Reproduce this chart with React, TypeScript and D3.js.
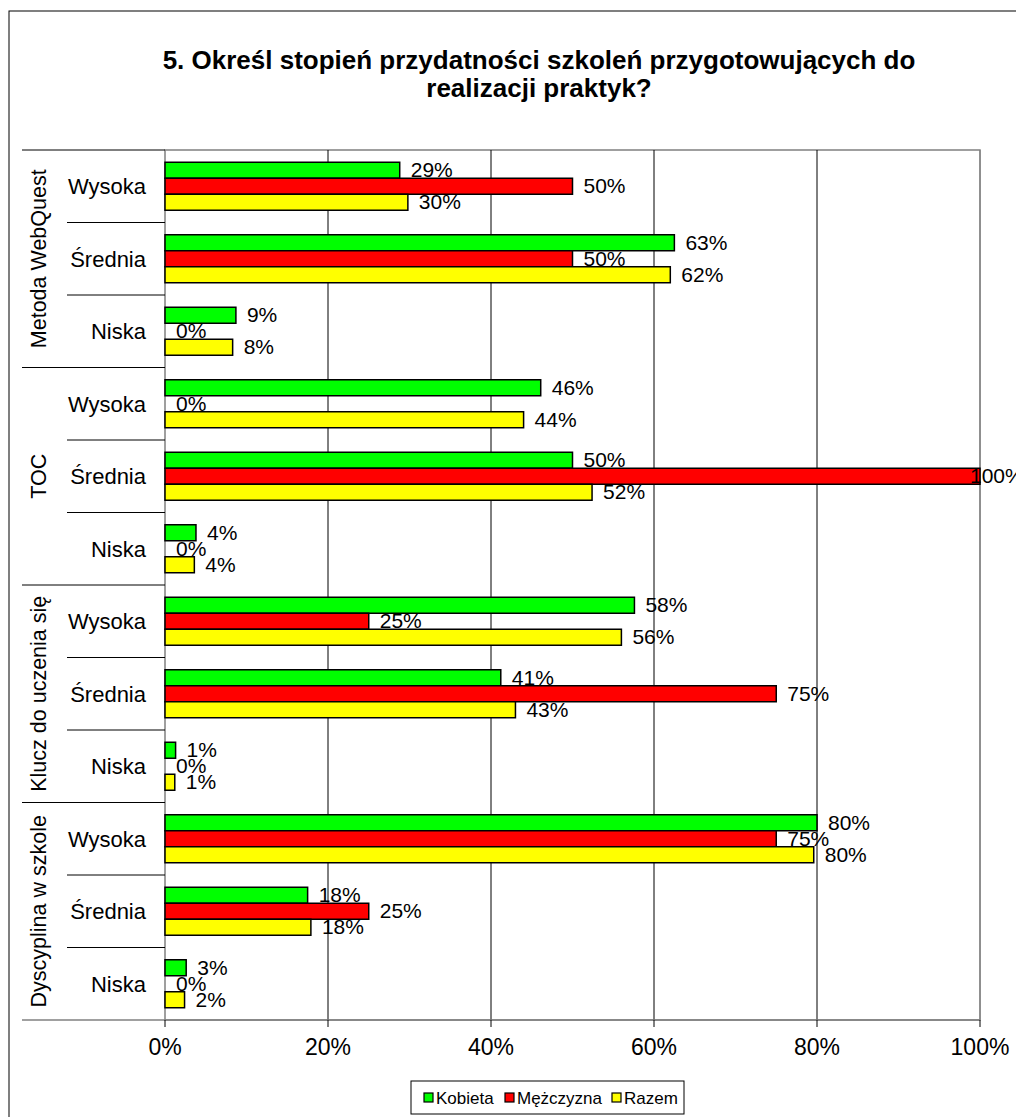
import React from 'react'
import * as d3 from 'd3'

const groups = ['Metoda WebQuest', 'TOC', 'Klucz do uczenia się', 'Dyscyplina w szkole']
const levels = ['Wysoka', 'Średnia', 'Niska']
const seriesNames = ['Kobieta', 'Mężczyzna', 'Razem']
const seriesColors = ['#00ff00', '#ff0000', '#ffff00']

// values per row, top to bottom (group x level)
const kobieta = [28.8, 62.5, 8.7, 46.1, 50, 3.8, 57.6, 41.2, 1.3, 80, 17.5, 2.6]
const mezczyzna = [50, 50, 0, 0, 100, 0, 25, 75, 0, 75, 25, 0]
const razem = [29.8, 62, 8.3, 44, 52.4, 3.6, 56, 43, 1.2, 79.6, 17.9, 2.4]
const ticks = [0, 20, 40, 60, 80, 100]

const FONT = "Arial, 'Liberation Sans', sans-serif"

const App: React.FC = () => {
  const width = 1016
  const height = 1117
  const margin = { top: 150, left: 165, right: 36, bottom: 97 }
  const plotW = width - margin.left - margin.right
  const plotBottom = height - margin.bottom

  const rows = groups.flatMap((g, gi) => levels.map((l, li) => ({ group: g, level: l, idx: gi * 3 + li })))
  const values = [kobieta, mezczyzna, razem]

  const x = d3.scaleLinear().domain([0, 100]).range([margin.left, margin.left + plotW])
  const y = d3.scaleBand<number>().domain(rows.map(r => r.idx)).range([margin.top, plotBottom])
  const inner = d3.scaleBand<number>().domain([0, 1, 2]).range([0, y.bandwidth()]).paddingInner(0).paddingOuter(0.766)
  const groupH = y.step() * levels.length

  // legend layout
  const legendX = [424, 505, 612]

  return (
    <>
      <style>{`body{margin:0}`}</style>
      <svg width={width} height={height} style={{ display: 'block', fontFamily: FONT }}>
        <rect x={0} y={0} width={width} height={height} fill="#fff" />
        <rect x={9} y={11} width={width + 50} height={height + 50} fill="none" stroke="#000" strokeWidth={1} />

        {/* title */}
        <text x={539} y={69} textAnchor="middle" fontSize={26} fontWeight="bold">
          5. Określ stopień przydatności szkoleń przygotowujących do
        </text>
        <text x={539} y={97} textAnchor="middle" fontSize={26} fontWeight="bold">
          realizacji praktyk?
        </text>

        {/* plot border */}
        <rect x={margin.left} y={margin.top} width={plotW} height={plotBottom - margin.top}
          fill="none" stroke="#808080" strokeWidth={1.5} />

        {/* gridlines */}
        {ticks.slice(1).map(t => (
          <line key={t} x1={x(t)} x2={x(t)} y1={margin.top} y2={plotBottom}
            stroke={t === 100 ? '#808080' : '#000'} strokeWidth={1} />
        ))}

        {/* bars */}
        {rows.map(r => values.map((vals, si) => {
          const v = vals[r.idx]
          const by = (y(r.idx) as number) + (inner(si) as number)
          return (
            <rect key={`${r.idx}-${si}`} x={x(0)} y={by} width={x(v) - x(0)} height={inner.bandwidth()}
              fill={seriesColors[si]} stroke="#000" strokeWidth={1.5} />
          )
        }))}

        {/* data labels */}
        {rows.map(r => values.map((vals, si) => {
          const v = vals[r.idx]
          const by = (y(r.idx) as number) + (inner(si) as number) + inner.bandwidth() / 2
          return (
            <text key={`l${r.idx}-${si}`} x={Math.min(x(v) + 11, 970)} y={by + 7} fontSize={21}>
              {Math.round(v)}%
            </text>
          )
        }))}

        {/* category axis */}
        {rows.map(r => (
          <text key={`c${r.idx}`} x={146} y={(y(r.idx) as number) + y.bandwidth() / 2 + 8}
            textAnchor="end" fontSize={22}>{r.level}</text>
        ))}
        {rows.map(r => r.idx % 3 === 0 ? null : (
          <line key={`s${r.idx}`} x1={67} x2={margin.left} y1={y(r.idx)} y2={y(r.idx)} stroke="#000" strokeWidth={1} />
        ))}
        {groups.map((g, gi) => (
          <line key={`gs${gi}`} x1={22} x2={margin.left} y1={margin.top + gi * groupH} y2={margin.top + gi * groupH}
            stroke="#000" strokeWidth={1} />
        ))}
        {groups.map((g, gi) => {
          const cy = margin.top + gi * groupH + groupH / 2
          return (
            <text key={`g${gi}`} transform={`translate(46,${cy}) rotate(-90)`} textAnchor="middle" fontSize={21.5}>{g}</text>
          )
        })}

        {/* value axis */}
        <line x1={22} x2={x(100)} y1={plotBottom} y2={plotBottom} stroke="#808080" strokeWidth={1.5} />
        {ticks.map(t => (
          <g key={`t${t}`}>
            <line x1={x(t)} x2={x(t)} y1={plotBottom} y2={plotBottom + 7} stroke="#000" strokeWidth={1} />
            <text x={x(t)} y={plotBottom + 35} textAnchor="middle" fontSize={23}>{t}%</text>
          </g>
        ))}

        {/* legend */}
        <rect x={411} y={1081} width={273} height={33} fill="#fff" stroke="#000" strokeWidth={1} />
        {seriesNames.map((s, i) => {
          const lx = legendX[i]
          return (
            <g key={s}>
              <rect x={lx} y={1093} width={9} height={9} fill={seriesColors[i]} stroke="#000" strokeWidth={1.2} />
              <text x={lx + 12} y={1104} fontSize={17}>{s}</text>
            </g>
          )
        })}
      </svg>
    </>
  )
}

export default App
